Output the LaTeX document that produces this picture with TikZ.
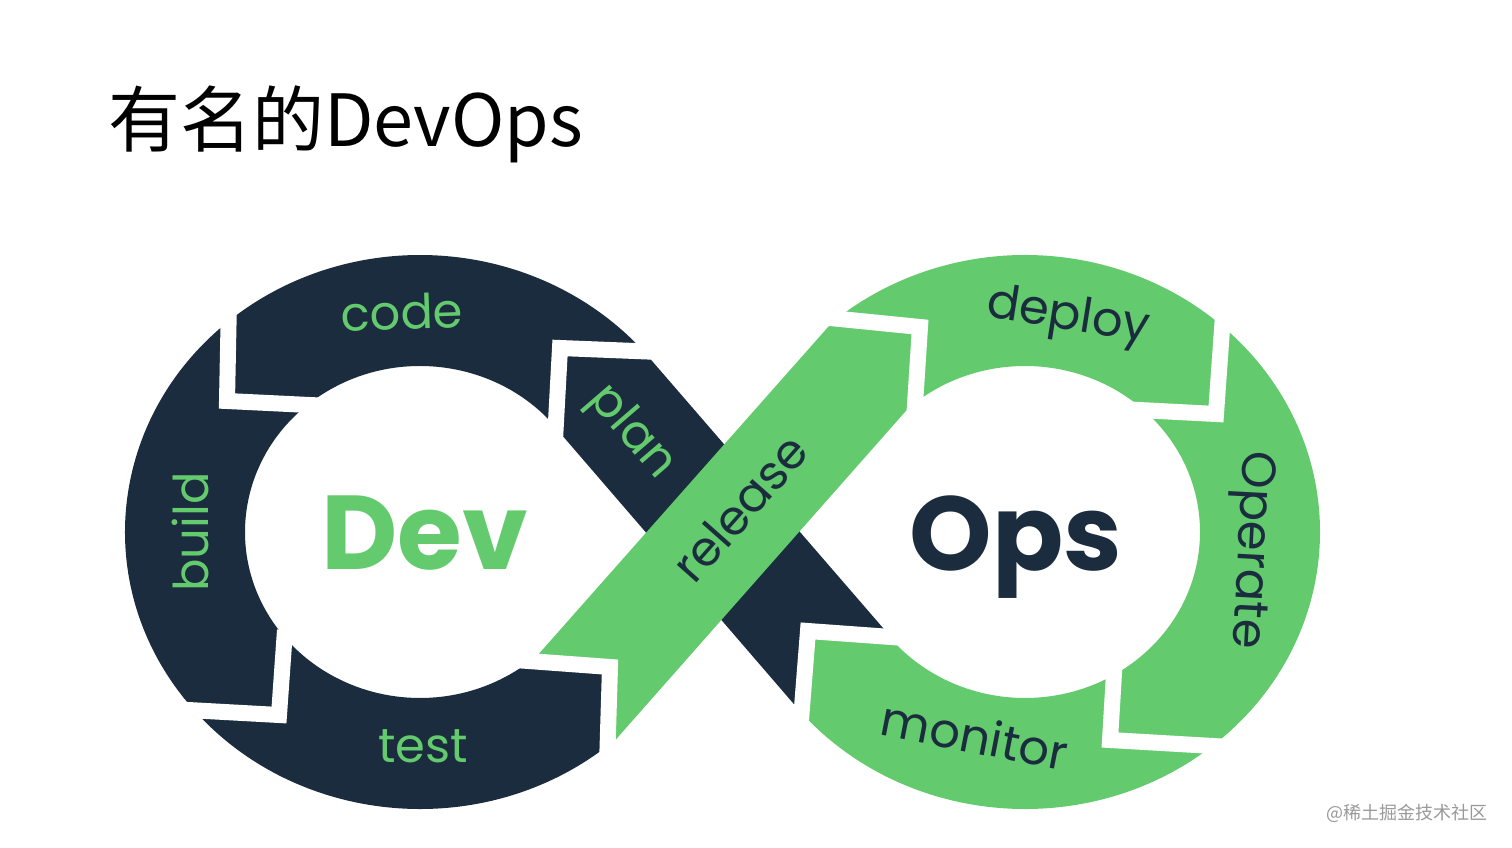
\documentclass[tikz,border=0pt]{standalone}
\usepackage{fontspec}
\newfontfamily\cjk{Noto Sans CJK SC}
\newfontfamily\pop{Poppins}
\definecolor{dk}{HTML}{1B2C3E}
\definecolor{gr}{HTML}{63CB6D}
\def\Y#1{847-#1}
\tikzset{
  gap/.style={draw=white,line width=16pt,line join=miter,line cap=butt},
  lbl/.style={font=\pop\fontsize{48}{48}\selectfont,inner sep=0pt,anchor=center},
  big/.style={font=\pop\bfseries\fontsize{105}{105}\selectfont,inner sep=0pt,anchor=base}
}
\begin{document}
\begin{tikzpicture}[x=1pt,y=1pt]
\useasboundingbox (0,0) rectangle (1512,847);
\fill[white] (0,0) rectangle (1512,847);
% key points on the ellipses
\coordinate (Lo38) at ({420+295*cos(38)},{315+277*sin(38)});
\coordinate (Li35) at ({420+175*cos(35.3)},{315+166*sin(35.3)});
\coordinate (Lo309) at ({420+295*cos(309)},{315+277*sin(309)});
\coordinate (Ro131) at ({1025+295*cos(130.8)},{315+277*sin(130.8)});
\coordinate (Li313) at ({420+175*cos(-47.2)},{315+166*sin(-47.2)});
\coordinate (Lo312) at ({420+295*cos(-48.1)},{315+277*sin(-48.1)});
\coordinate (Ri132) at ({1025+175*cos(132)},{315+166*sin(132)});
\coordinate (Ro220) at ({1025+295*cos(-140)},{315+277*sin(-140)});
% dark loop (Dev)
\fill[dk] (Lo38) -- (890.8,\Y{637}) -- (808,\Y{631}) -- (801,\Y{710}) -- (799,\Y{710})
  -- (Li35) arc[start angle=35.3,end angle=307,x radius=175,y radius=166]
  -- (610,\Y{667}) -- (608,\Y{750})
  -- (Lo309) arc[start angle=309,end angle=38,x radius=295,y radius=277] -- cycle;
% green loop (Ops)
\fill[gr] (Ro131) -- (Li313) -- (610,\Y{667}) -- (608,\Y{750}) -- (Lo312)
  -- (Ri132) arc[start angle=132,end angle=-140.7,x radius=175,y radius=166]
  -- (808,\Y{631}) -- (801,\Y{710})
  -- (Ro220) arc[start angle=-140,end angle=130.8,x radius=295,y radius=277] -- cycle;
% white gaps
\draw[gap] (229,\Y{300}) -- (227,\Y{401}) -- (330,\Y{406});
\draw[gap] (170,\Y{709}) -- (279,\Y{715}) -- (285,\Y{630});
\draw[gap] (660,\Y{352}) -- (560,\Y{348}) -- (555,\Y{440});
\draw[gap] (515,\Y{660}) -- (610,\Y{667}) -- (607,\Y{765});
\draw[gap] (820,\Y{317}) -- (920,\Y{327}) -- (914,\Y{420});
\draw[gap] (1223,\Y{315}) -- (1216,\Y{414}) -- (1120,\Y{409});
\draw[gap] (1230,\Y{747}) -- (1110,\Y{740}) -- (1116,\Y{640});
\draw[gap] (905,\Y{638}) -- (808,\Y{631}) -- (801,\Y{720});
% labels
\node[lbl,text=gr,rotate=2] (code) at (402,\Y{312}) {code};
\node[lbl,text=gr,rotate=90] (build) at (190,\Y{532}) {build};
\node[lbl,text=gr] (test) at (423,\Y{746}) {test};
\node[lbl,text=gr,rotate=-49.3] (plan) at (631,\Y{433}) {plan};
\node[lbl,text=dk,rotate=48.5] (release) at (740,\Y{508}) {release};
\node[lbl,text=dk,rotate=-9] (deploy) at (1068,\Y{318}) {deploy};
\node[lbl,text=dk,rotate=-93] (operate) at (1249,\Y{550}) {Operate};
\node[lbl,text=dk,rotate=-11] (monitor) at (975,\Y{735}) {monitor};
\node[big,text=gr] (dev) at (425,\Y{569}) {Dev};
\node[big,text=dk] (ops) at (1016,\Y{570}) {Ops};
% title and watermark
\node[anchor=base west,inner sep=0pt] (title) at (108,\Y{147}) {\cjk\fontsize{72}{72}\selectfont 有名的DevOps};
\node[anchor=east,inner sep=0pt,text=black!40] (mark) at (1488,\Y{813}) {\cjk\fontsize{18}{18}\selectfont @稀土掘金技术社区};
\end{tikzpicture}
\end{document}
